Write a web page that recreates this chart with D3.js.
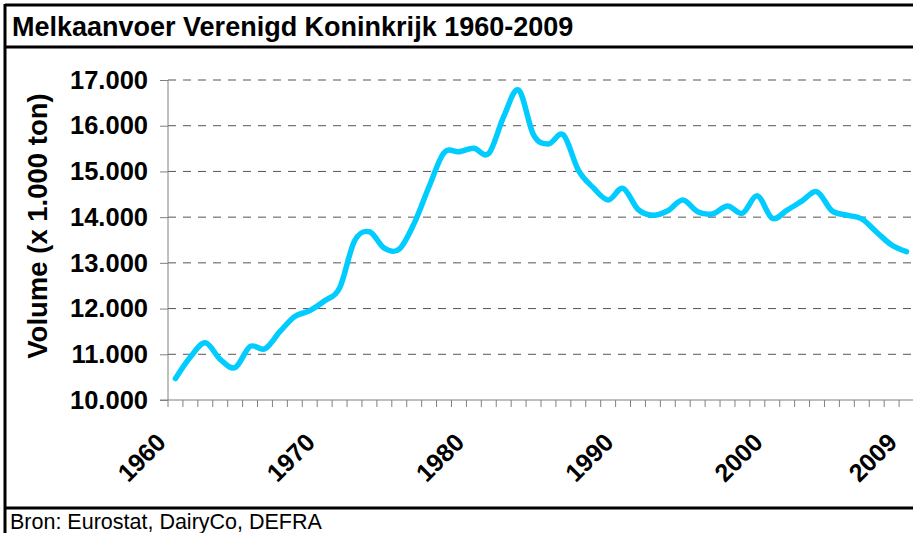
<!DOCTYPE html>
<html lang="nl">
<head>
<meta charset="UTF-8">
<title>Melkaanvoer Verenigd Koninkrijk 1960-2009</title>
<script src="https://d3js.org/d3.v7.min.js"></script>
<style>
  html, body { margin: 0; padding: 0; background: #fff; }
  svg { display: block; font-family: "Liberation Sans", Arial, sans-serif; }
  .grid line { stroke: #555; stroke-dasharray: 8,7; }
</style>
</head>
<body>
<svg width="913" height="533"></svg>
<script>
const years = d3.range(1960, 2010);
const volume = [
  10470, 10940, 11250, 10890, 10710, 11170, 11120, 11495, 11825, 11955,
  12170, 12450, 13480, 13680, 13320, 13300, 13865, 14670, 15410, 15430,
  15505, 15395, 16200, 16780, 15800, 15600, 15800, 15030, 14645, 14375,
  14630, 14170, 14040, 14140, 14375, 14120, 14070, 14245, 14085, 14465,
  13975, 14155, 14355, 14555, 14140, 14045, 13960, 13670, 13390, 13245
];
const yTicks = [10000, 11000, 12000, 13000, 14000, 15000, 16000, 17000];
const xLabels = [1960, 1970, 1980, 1990, 2000, 2009];

const svg = d3.select("svg");
const fmt = d => d3.format(",")(d).replace(/,/g, ".");

// frame
svg.append("line").attr("x1", 5).attr("x2", 913).attr("y1", 5).attr("y2", 5)
  .attr("stroke", "#000").attr("stroke-width", 3);
svg.append("line").attr("x1", 5).attr("x2", 913).attr("y1", 47).attr("y2", 47)
  .attr("stroke", "#000").attr("stroke-width", 3);
svg.append("line").attr("x1", 5).attr("x2", 913).attr("y1", 508).attr("y2", 508)
  .attr("stroke", "#000").attr("stroke-width", 3);
svg.append("line").attr("x1", 5).attr("x2", 5).attr("y1", 4).attr("y2", 533)
  .attr("stroke", "#000").attr("stroke-width", 3);

svg.append("text").attr("x", 12).attr("y", 36)
  .attr("font-size", 27).attr("font-weight", "bold")
  .text("Melkaanvoer Verenigd Koninkrijk 1960-2009");

svg.append("text").attr("x", 10).attr("y", 529)
  .attr("font-size", 21.5)
  .text("Bron: Eurostat, DairyCo, DEFRA");

// scales
const x = d3.scaleBand().domain(years).range([168, 914]);
const y = d3.scaleLinear().domain([10000, 17000]).range([400, 80]);

// gridlines
svg.append("g").attr("class", "grid")
  .selectAll("line").data(yTicks.slice(1)).join("line")
  .attr("x1", 168).attr("x2", 914)
  .attr("y1", d => y(d)).attr("y2", d => y(d));

// y axis
const yAxis = svg.append("g").attr("transform", "translate(168,0)")
  .call(d3.axisLeft(y).tickValues(yTicks).tickSize(8).tickPadding(12).tickFormat(fmt));
yAxis.select(".domain").attr("stroke", "#808080").attr("d", "M0,80V400");
yAxis.selectAll(".tick line").attr("stroke", "#808080");
yAxis.selectAll(".tick text")
  .attr("font-family", "Liberation Sans, Arial, sans-serif")
  .attr("font-size", 25.5).attr("font-weight", "bold").attr("fill", "#000");

// x axis: ticks at category boundaries
const xAxis = svg.append("g").attr("transform", "translate(0,400)");
xAxis.append("line").attr("x1", 160).attr("x2", 914)
  .attr("stroke", "#808080");
xAxis.selectAll("line.t").data(years).join("line").attr("class", "t")
  .attr("x1", d => x(d)).attr("x2", d => x(d))
  .attr("y1", 0).attr("y2", 7).attr("stroke", "#808080");

svg.append("g").selectAll("text").data(xLabels).join("text")
  .attr("transform", d => `translate(${x(d) + x.bandwidth() / 2 - 8},444) rotate(-45)`)
  .attr("text-anchor", "end")
  .attr("font-size", 25).attr("font-weight", "bold")
  .text(d => d);

svg.append("text")
  .attr("transform", "translate(47,226) rotate(-90)")
  .attr("text-anchor", "middle")
  .attr("font-size", 27.5).attr("font-weight", "bold")
  .text("Volume (x 1.000 ton)");

// line
const line = d3.line()
  .x((d, i) => x(years[i]) + x.bandwidth() / 2)
  .y(d => y(d))
  .curve(d3.curveCardinal);

svg.append("path").datum(volume)
  .attr("d", line)
  .attr("fill", "none")
  .attr("stroke", "#00ccff")
  .attr("stroke-width", 5.5)
  .attr("stroke-linejoin", "round")
  .attr("stroke-linecap", "round");
</script>
</body>
</html>
